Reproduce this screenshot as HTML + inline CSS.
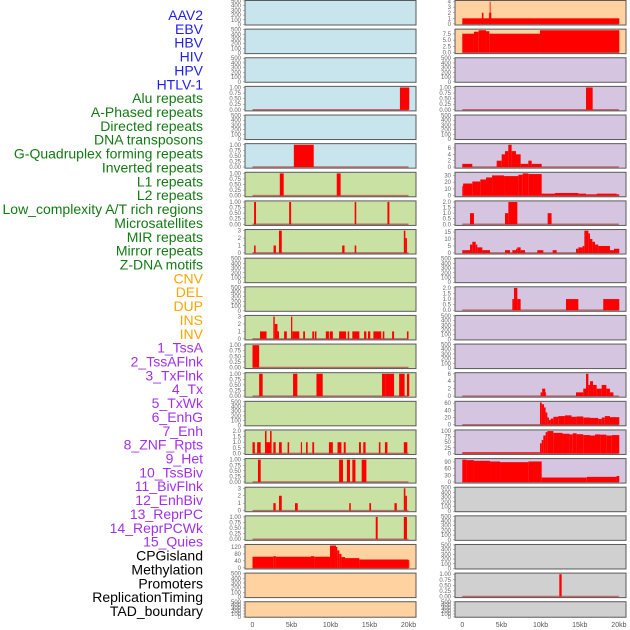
<!DOCTYPE html>
<html><head><meta charset="utf-8"><style>
html,body{margin:0;padding:0;background:#fff;}
svg{display:block;font-family:"Liberation Sans",sans-serif;}
</style></head><body>
<svg id="chart" width="630" height="630" viewBox="0 0 630 630"></svg>
<script>
const rowLabels = ["AAV2","EBV","HBV","HIV","HPV","HTLV-1","Alu repeats","A-Phased repeats","Directed repeats","DNA transposons","G-Quadruplex forming repeats","Inverted repeats","L1 repeats","L2 repeats","Low_complexity A/T rich regions","Microsatellites","MIR repeats","Mirror repeats","Z-DNA motifs","CNV","DEL","DUP","INS","INV","1_TssA","2_TssAFlnk","3_TxFlnk","4_Tx","5_TxWk","6_EnhG","7_Enh","8_ZNF_Rpts","9_Het","10_TssBiv","11_BivFlnk","12_EnhBiv","13_ReprPC","14_ReprPCWk","15_Quies","CPGisland","Methylation","Promoters","ReplicationTiming","TAD_boundary"];
const labelColors = {blue:6, green:13, orange:5, purple:15, black:5};
const xTickValues = [0,5,10,15,20];
const xTickLabels = ["0","5kb","10kb","15kb","20kb"];

const ticksEmpty = [0,100,200,300,400,500];
const ticks01 = [0,0.25,0.5,0.75,1];
const ticks02 = [0,0.5,1,1.5,2];
const ticks03 = [0,1,2,3];

// segments: [start_kb, end_kb, value]
const segAAV2 = [[0,20.05,1],[2.5,2.7,2],[3.4,3.5,2],[3.5,3.6,4],[3.6,3.7,2]];
const segEBV = [[0,1.49,7.6],[1.49,2.09,8.4],[2.09,3.03,9],[3.03,3.45,8.6],[3.45,9.92,7.6],[9.92,20.05,9]];
const segR3L = [[18.9,20.1,1]];
const segR3R = [[15.8,16.65,1]];
const segR5L = [[5.3,7.85,1]];
const segR5R = [[0,1.28,1],[4.39,5.03,2],[5.03,5.45,4],[5.45,5.88,5],[5.88,6.3,7],[6.3,6.86,5],[6.86,7.45,4],[7.45,8.01,1],[8.01,8.43,1],[8.43,8.86,2],[8.86,10.14,1]];
const segR6L = [[3.5,4.0,1],[10.8,11.3,1]];
const segR6R = [[0,0.1,14],[0.1,1.28,18],[1.28,2.3,21],[2.3,3.03,24],[3.03,3.8,27],[3.8,5.33,30],[5.33,7.16,29],[7.16,7.71,31],[7.71,8.43,33],[8.43,10.14,32],[10.14,11.84,3],[11.84,14.82,4],[14.82,15.8,3],[15.8,17.16,2],[17.16,19.71,3],[19.71,20.05,2]];
const segR7L = [[0.2,0.45,1],[4.7,4.95,1],[13.1,13.3,1],[17.3,17.55,1]];
const segR7R = [[0.98,1.49,1],[5.45,5.88,1],[5.88,7.03,2],[10.9,11.4,1]];
const segR8L = [[0.2,0.4,1],[2.7,3.0,1],[3.4,3.75,3],[11.5,11.8,1],[13.1,13.3,1],[19.4,19.6,3],[19.6,19.8,2]];
const segR8R = [[0,0.43,2],[0.43,0.98,2],[0.98,1.28,6],[1.28,1.71,8],[1.71,1.92,6],[1.92,2.56,4],[2.56,3.54,2],[5.45,6.09,2],[6.39,6.86,2],[6.86,7.03,3],[7.03,7.45,4],[7.45,8.01,2],[9.58,10.35,2],[11.54,12.05,2],[14.52,14.82,3],[14.82,15.37,4],[15.37,15.59,5],[15.59,16.1,16],[16.1,16.31,14],[16.31,16.61,10],[16.61,16.95,8],[16.95,17.37,6],[17.37,18.86,5],[18.86,19.37,2],[19.37,20.05,3]];
const segR10R = [[6.39,6.6,1],[6.6,7.03,2],[7.03,7.45,1],[13.24,14.82,1],[18.0,20.05,1]];
const segR11L = [[0.96,1.8,1],[2.67,2.85,3],[2.85,3.2,2],[3.2,3.4,1],[4.05,4.4,1],[4.94,5.1,3],[5.1,6.0,1],[6.5,6.73,1],[7.67,7.9,1],[8.0,8.2,1],[9.4,9.8,1],[9.9,10.3,1],[11.1,12.0,1],[12.2,12.4,1],[12.8,13.7,1],[14.3,14.6,1],[14.8,15.1,1],[15.5,16.5,1],[16.7,16.9,1],[17.9,18.15,1],[19.8,20.0,1]];
const segR12L = [[0,0.85,1]];
const segR13L = [[0.85,1.3,1],[5.2,5.75,1],[8.2,9.0,1],[16.6,17.1,1],[17.1,18.15,1],[18.8,19.5,1],[19.8,20.1,1]];
const segR13R = [[10.0,10.2,1],[10.2,10.6,2],[10.6,10.7,1],[14.52,15.45,1],[15.45,15.8,2],[15.8,16.1,6],[16.1,16.31,3],[16.31,16.7,4],[16.7,17.16,3],[17.16,17.8,2],[17.8,18.4,3],[18.4,18.86,2],[18.86,19.3,1]];
const segR14R = [[9.92,10.14,62],[10.14,10.43,57],[10.43,10.64,48],[10.64,10.86,34],[10.86,11.07,20],[11.07,11.28,13],[11.28,11.63,17],[11.63,12.26,22],[12.26,13.1,24],[13.1,13.95,26],[13.95,14.6,22],[14.6,15.45,23],[15.45,16.31,20],[16.31,17.37,19],[17.37,17.8,16],[17.8,18.2,20],[18.2,18.86,24],[18.86,20.05,21]];
const segR15L = [[0,0.3,1],[0.6,1.05,1],[1.6,1.8,2],[1.8,2.25,1],[2.25,2.45,2],[2.67,2.97,1],[3.4,3.75,1],[4.5,4.7,1],[6.2,6.35,1],[6.86,7.07,1],[7.67,7.9,1],[9.8,10.3,1],[10.9,11.4,1],[11.7,11.95,1],[13.65,13.9,1],[14.2,14.5,1],[16.2,16.4,1],[16.98,17.3,1],[19.4,19.85,1]];
const segR15R = [[0,9.92,5],[9.92,10.14,45],[10.14,10.35,60],[10.35,10.64,80],[10.64,10.86,95],[10.86,11.63,100],[11.63,12.8,92],[12.8,13.7,88],[13.7,14.1,85],[14.1,14.6,90],[14.6,15.45,86],[15.45,16.31,82],[16.31,16.95,80],[16.95,17.6,85],[17.6,18.4,84],[18.4,19.1,80],[19.1,20.05,82]];
const segR16L = [[0.7,1.05,1],[11.1,11.6,1],[12.1,12.5,1],[12.8,13.2,1],[14.0,14.6,1]];
const segR16R = [[0,0.55,100],[0.55,1.49,98],[1.49,3.54,95],[3.54,4.82,92],[4.82,8.43,89],[8.43,10.14,92],[10.14,15.9,20],[15.9,19.7,23],[19.7,20.05,27]];
const segR17L = [[2.67,2.97,1],[3.4,3.75,2],[5.45,5.8,1],[12.4,12.6,1],[14.98,15.2,1],[18.2,18.5,1],[19.4,19.6,3],[19.6,19.8,2]];
const segR18L = [[15.8,16.05,1],[19.4,19.8,1]];
const segR19L = [[0,2.67,64],[2.67,3.0,67],[3.0,7.5,64],[7.5,7.9,67],[7.9,9.94,64],[9.94,10.7,128],[10.7,10.87,120],[10.87,11.13,100],[11.13,11.4,80],[11.4,11.86,62],[11.86,13.7,56],[13.7,19.98,48],[19.98,20.1,45]];
const segR20R = [[12.39,12.69,1]];

// [row, side, background, tickValues, tickDecimals, dataMax, segments]
const panelSpecs = [
 [0,"L","blue",ticksEmpty,0,500,null],[0,"R","peach",[0,1,2,3,4],0,4,segAAV2],
 [1,"L","blue",ticksEmpty,0,500,null],[1,"R","peach",[0,2.5,5,7.5],1,9,segEBV],
 [2,"L","blue",ticksEmpty,0,500,null],[2,"R","lav",ticksEmpty,0,500,null],
 [3,"L","blue",ticks01,2,1,segR3L],[3,"R","lav",ticks01,2,1,segR3R],
 [4,"L","blue",ticksEmpty,0,500,null],[4,"R","lav",ticksEmpty,0,500,null],
 [5,"L","blue",ticks01,2,1,segR5L],[5,"R","lav",[0,2,4,6],0,7,segR5R],
 [6,"L","green",ticks01,2,1,segR6L],[6,"R","lav",[0,10,20,30],0,33,segR6R],
 [7,"L","green",ticks01,2,1,segR7L],[7,"R","lav",ticks02,1,2,segR7R],
 [8,"L","green",ticks03,0,3,segR8L],[8,"R","lav",[0,5,10,15],0,16,segR8R],
 [9,"L","green",ticksEmpty,0,500,null],[9,"R","lav",ticksEmpty,0,500,null],
 [10,"L","green",ticksEmpty,0,500,null],[10,"R","lav",ticks02,1,2,segR10R],
 [11,"L","green",ticks03,0,3,segR11L],[11,"R","lav",ticksEmpty,0,500,null],
 [12,"L","green",ticks01,2,1,segR12L],[12,"R","lav",ticksEmpty,0,500,null],
 [13,"L","green",ticks01,2,1,segR13L],[13,"R","lav",[0,2,4,6],0,6,segR13R],
 [14,"L","green",ticksEmpty,0,500,null],[14,"R","lav",[0,20,40,60],0,62,segR14R],
 [15,"L","green",ticks02,1,2,segR15L],[15,"R","lav",[0,25,50,75,100],0,100,segR15R],
 [16,"L","green",ticks01,2,1,segR16L],[16,"R","lav",[0,30,60,90],0,100,segR16R],
 [17,"L","green",ticks03,0,3,segR17L],[17,"R","grey",ticksEmpty,0,500,null],
 [18,"L","green",ticks01,2,1,segR18L],[18,"R","grey",ticksEmpty,0,500,null],
 [19,"L","peach",[0,40,80,120],0,128,segR19L],[19,"R","grey",ticksEmpty,0,500,null],
 [20,"L","peach",ticksEmpty,0,500,null],[20,"R","grey",ticks01,2,1,segR20R],
 [21,"L","peach",ticksEmpty,0,500,null],[21,"R","grey",ticksEmpty,0,500,null]
];

const NS = "http://www.w3.org/2000/svg";
const svg = document.getElementById("chart");
function mk(tag, attrs, parent){const e=document.createElementNS(NS,tag);for(const k in attrs)e.setAttribute(k,attrs[k]);(parent||svg).appendChild(e);return e;}
const bgColors = {blue:"#c8e4ec", green:"#c9e1a3", lav:"#d5c5e1", peach:"#ffd2a0", grey:"#d0d0d0"};
const sides = {L:{x0:245,x1:416,zero:252.5,pxkb:7.8}, R:{x0:455,x1:626,zero:462.3,pxkb:7.83}};
function rowTop(r){return 0.5 + r*28.63;}
function rowH(r){return r===21?15.5:24.5;}

// labels
const colorSeq = [];
const colMap = {blue:"#1f1fee", green:"#137a13", orange:"#ffa500", purple:"#a030ee", black:"#000"};
for(const c in labelColors){for(let i=0;i<labelColors[c];i++)colorSeq.push(colMap[c]);}
rowLabels.forEach((t,i)=>{
  const e = mk("text",{x:203,y:15+i*13.86+5,"text-anchor":"end","font-size":"14",fill:colorSeq[i]});
  e.textContent=t;
  
  
});

panelSpecs.forEach(p=>{
  const [row,side,bg,ticks,dec,dmax,segs]=p;
  const s=sides[side];
  const top=rowTop(row), h=rowH(row), bot=top+h;
  const lo = segs? -0.05*dmax : -0.02*dmax, hi = segs? 1.05*dmax : 1.02*dmax;
  const y = v => bot - (v-lo)/(hi-lo)*h;
  const x = kb => s.zero + kb*s.pxkb;
  const g = mk("g",{});
  
  
  const r = mk("rect",{x:s.x0,y:top,width:s.x1-s.x0,height:h,fill:bgColors[bg]},g);
  
  
  if(segs){
    const bl = mk("line",{x1:x(0),x2:x(20),y1:y(0),y2:y(0),stroke:"#b85050","stroke-width":1.5,"stroke-opacity":0.8},g);
    
    
    segs.forEach(sg=>{
      const b = mk("rect",{x:x(sg[0]),y:y(sg[2]),width:Math.max(0.8,x(sg[1])-x(sg[0])),height:y(0)-y(sg[2]),fill:"#ff0000"},g);
      
      
    });
  }
  const br = mk("rect",{x:s.x0,y:top,width:s.x1-s.x0,height:h,fill:"none",stroke:"#5a5a5a","stroke-width":1},g);
  
  
  ticks.forEach(tv=>{
    const yy=y(tv);
    mk("line",{x1:s.x0-2,x2:s.x0,y1:yy,y2:yy,stroke:"#777","stroke-width":0.5},g);
    const tl = mk("text",{x:s.x0-4,y:yy+2,"text-anchor":"end","font-size":"6",fill:"#666"},g);
    tl.textContent = tv.toFixed(dec);
    
    
  });
});

["L","R"].forEach(sd=>{
  const s=sides[sd];
  xTickValues.forEach((v,i)=>{
    const t = mk("text",{x:s.zero+v*s.pxkb,y:627,"text-anchor":"middle","font-size":"7",fill:"#555"});
    t.textContent = xTickLabels[i];
    
    
  });
});
</script>
</body></html>
